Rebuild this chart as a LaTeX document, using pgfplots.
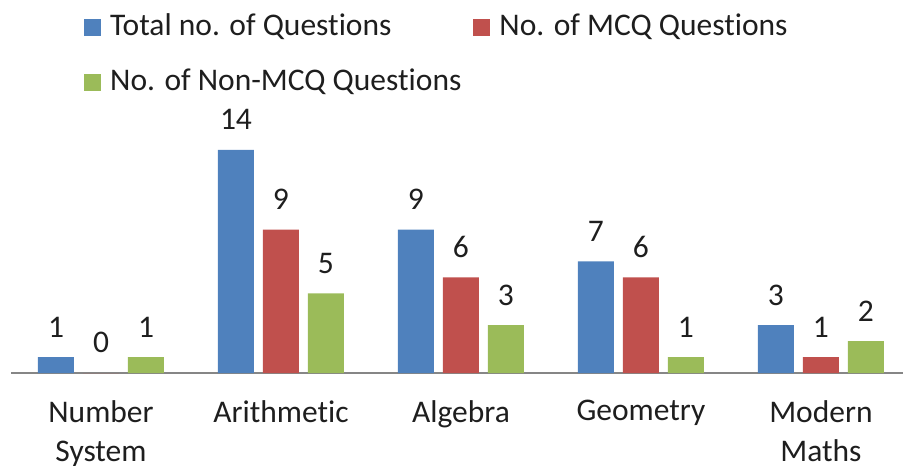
\documentclass[border=0pt]{standalone}
\usepackage{pgfplots}
\pgfplotsset{compat=1.18}
\usepackage{fontspec}
\setmainfont{Carlito}[Ligatures=NoCommon]
\definecolor{cblue}{HTML}{4F81BD}
\definecolor{cred}{HTML}{C0504D}
\definecolor{cgreen}{HTML}{9BBB59}
\definecolor{ctext}{HTML}{1E1E1E}
\definecolor{caxis}{HTML}{868686}
\begin{document}
\begin{tikzpicture}[x=1pt,y=1pt]
\path[use as bounding box] (0,0) rectangle (903,466);
\begin{axis}[
  at={(11pt,93pt)}, anchor=south west,
  scale only axis, width=892pt, height=231pt,
  xmin=-0.5, xmax=4.456, ymin=0, ymax=14.5,
  axis x line=bottom, axis y line=none,
  axis line style={caxis, line width=2pt, -},
  ytick=\empty,
  xtick={0,1,2,3,4},
  xticklabels={Number\\System, Arithmetic, Algebra, Geometry, Modern\\Maths},
  major tick length=0pt,
  xticklabel style={align=center, font=\fontsize{31.5}{39}\selectfont, text=ctext, yshift=-24pt},
  ybar, bar width=36pt,
  clip=false,
  /pgf/number format/assume math mode=true,
  nodes near coords,
  every node near coord/.append style={font=\fontsize{31.5}{36}\selectfont, text=ctext, anchor=base, inner sep=0pt, yshift=20pt},
  legend columns=2,
  legend cell align=left,
  legend style={draw=none, fill=none, at={(0.0818,1.558)}, anchor=north west, inner sep=0pt,
    font=\fontsize{31.5}{36}\selectfont, text=ctext,
    nodes={inner sep=0pt, text height=22pt, text depth=6pt},
    row sep=27pt,
    /tikz/every odd column/.append style={column sep=9pt},
    /tikz/every even column/.append style={column sep=12pt}},
  legend image code/.code={\fill[#1] (0pt,-8.5pt) rectangle (17pt,8.5pt);},
]
\addplot[fill=cblue, draw=none, bar shift=-45pt] coordinates {(0,1) (1,14) (2,9) (3,7) (4,3)};
\addplot[fill=cred, draw=none, bar shift=0pt] coordinates {(0,0) (1,9) (2,6) (3,6) (4,1)};
\addplot[fill=cgreen, draw=none, bar shift=45pt] coordinates {(0,1) (1,5) (2,3) (3,1) (4,2)};
\legend{Total no. of Questions, No. of MCQ Questions, No. of Non-MCQ Questions}
\end{axis}
\end{tikzpicture}
\end{document}
